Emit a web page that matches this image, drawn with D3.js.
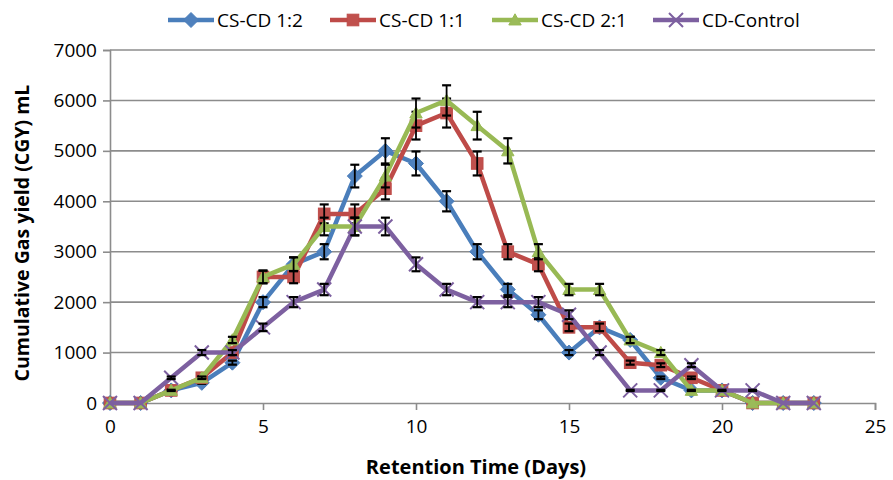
<!DOCTYPE html>
<html>
<head>
<meta charset="utf-8">
<script src="https://cdn.jsdelivr.net/npm/d3@7"></script>
<style>
  html, body { margin: 0; padding: 0; background: #fff; }
  svg { display: block; font-family: "Open Sans", sans-serif; }
</style>
</head>
<body>
<svg id="chart" width="893" height="480"></svg>
<script>
// ---- data ----
const days = [0,1,2,3,4,5,6,7,8,9,10,11,12,13,14,15,16,17,18,19,20,21,22,23];
const csCd12 = [0,0,250,400,800,2000,2750,3000,4500,5000,4750,4000,3000,2250,1750,1000,1500,1250,500,250,250,0,0,0];
const csCd11 = [0,0,250,500,1000,2500,2500,3750,3750,4250,5500,5750,4750,3000,2750,1500,1500,800,750,500,250,0,0,0];
const csCd21 = [0,0,250,500,1250,2500,2750,3500,3500,4500,5750,6000,5500,5000,3000,2250,2250,1250,1000,250,250,0,0,0];
const cdControl = [0,0,500,1000,1000,1500,2000,2250,3500,3500,2750,2250,2000,2000,2000,1750,1000,250,250,750,250,250,0,0];
const seriesNames = ["CS-CD 1:2","CS-CD 1:1","CS-CD 2:1","CD-Control"];
const errorPercent = 5; // percentage error bars
const xTicks = [0,5,10,15,20,25];
const yTicks = [0,1000,2000,3000,4000,5000,6000,7000];
const xTitle = "Retention Time (Days)";
const yTitle = "Cumulative Gas yield (CGY) mL";

// ---- styling ----
const colors = ["#4A7EBB","#BE4B48","#98B954","#7D60A0"];
const fills = ["#4F81BD","#C0504D","#9BBB59","#8064A2"];
const markers = ["diamond","square","triangle","x"];
const legendX = [168, 330, 492, 653];

const series = [csCd12, csCd11, csCd21, cdControl].map((vals, i) => ({
  name: seriesNames[i], color: colors[i], fill: fills[i], marker: markers[i],
  points: days.map((d, j) => ({ x: d, y: vals[j] }))
}));

const svg = d3.select("#chart");
const plotL = 110, plotR = 875, plotT = 50, plotB = 403;
const x = d3.scaleLinear().domain([0, 25]).range([plotL, plotR]);
const y = d3.scaleLinear().domain([0, 7000]).range([plotB, plotT]);

// gridlines
svg.append("g").selectAll("line").data(yTicks.filter(t => t > 0)).join("line")
  .attr("x1", plotL).attr("x2", plotR)
  .attr("y1", d => y(d)).attr("y2", d => y(d))
  .attr("stroke", "#8c8c8c").attr("stroke-width", 1.6);

// y axis
const yAxis = svg.append("g").attr("transform", `translate(${plotL},0)`)
  .call(d3.axisLeft(y).tickValues(yTicks).tickSize(7).tickPadding(6).tickFormat(d3.format("d")));
yAxis.select(".domain").attr("stroke", "#8c8c8c").attr("stroke-width", 1.6);
yAxis.selectAll(".tick line").attr("stroke", "#8c8c8c").attr("stroke-width", 1.6);
yAxis.selectAll("text").attr("font-family", "Open Sans").attr("font-size", 19).attr("fill", "#000");

// x axis
const xAxis = svg.append("g").attr("transform", `translate(0,${plotB})`)
  .call(d3.axisBottom(x).tickValues(xTicks).tickSize(7).tickPadding(10).tickFormat(d3.format("d")));
xAxis.select(".domain").attr("stroke", "#8c8c8c").attr("stroke-width", 1.6);
xAxis.selectAll(".tick line").attr("stroke", "#8c8c8c").attr("stroke-width", 1.6);
xAxis.selectAll("text").attr("font-family", "Open Sans").attr("font-size", 19).attr("fill", "#000");

// titles
svg.append("text").attr("x", 476).attr("y", 474).attr("text-anchor", "middle")
  .attr("font-weight", "bold").attr("font-size", 20).text(xTitle);
svg.append("text").attr("transform", "translate(29,233) rotate(-90)").attr("text-anchor", "middle")
  .attr("font-weight", "bold").attr("font-size", 19.5).text(yTitle);

function drawMarker(g, type, cx, cy, color, fill) {
  if (type === "diamond") {
    const r = 7.5;
    g.append("path").attr("d", `M${cx},${cy - r}L${cx + r},${cy}L${cx},${cy + r}L${cx - r},${cy}Z`)
      .attr("fill", fill).attr("stroke", color).attr("stroke-width", 1);
  } else if (type === "square") {
    const r = 5.8;
    g.append("rect").attr("x", cx - r).attr("y", cy - r).attr("width", 2 * r).attr("height", 2 * r)
      .attr("fill", fill).attr("stroke", color).attr("stroke-width", 1);
  } else if (type === "triangle") {
    const r = 6.2;
    g.append("path").attr("d", `M${cx},${cy - r}L${cx + r},${cy + r * 0.8}L${cx - r},${cy + r * 0.8}Z`)
      .attr("fill", fill).attr("stroke", color).attr("stroke-width", 1);
  } else {
    const r = 7;
    g.append("path").attr("d", `M${cx - r},${cy - r}L${cx + r},${cy + r}M${cx - r},${cy + r}L${cx + r},${cy - r}`)
      .attr("stroke", color).attr("stroke-width", 2).attr("fill", "none");
  }
}

const line = d3.line().x(d => x(d.x)).y(d => y(d.y));
series.forEach(s => {
  const g = svg.append("g");
  g.append("path").datum(s.points).attr("d", line)
    .attr("fill", "none").attr("stroke", s.color).attr("stroke-width", 4.5).attr("stroke-linejoin", "round");
  s.points.forEach(p => drawMarker(g, s.marker, x(p.x), y(p.y), s.color, s.fill));
  // error bars
  s.points.filter(p => p.y > 0).forEach(p => {
    const e = p.y * errorPercent / 100;
    const cx = x(p.x), y1 = y(p.y + e), y2 = y(p.y - e);
    g.append("line").attr("x1", cx).attr("x2", cx).attr("y1", y1).attr("y2", y2)
      .attr("stroke", "#000").attr("stroke-width", 1.8);
    [y1, y2].forEach(yy => g.append("line").attr("x1", cx - 4.5).attr("x2", cx + 4.5)
      .attr("y1", yy).attr("y2", yy).attr("stroke", "#000").attr("stroke-width", 2.2));
  });
});

// legend
series.forEach((s, i) => {
  const g = svg.append("g");
  const lx = legendX[i], ly = 20;
  g.append("line").attr("x1", lx).attr("x2", lx + 46).attr("y1", ly).attr("y2", ly)
    .attr("stroke", s.color).attr("stroke-width", 4.5);
  drawMarker(g, s.marker, lx + 23, ly, s.color, s.fill);
  g.append("text").attr("x", lx + 49).attr("y", ly).attr("dy", "0.35em")
    .attr("font-size", 19).text(s.name);
});
</script>
</body>
</html>
